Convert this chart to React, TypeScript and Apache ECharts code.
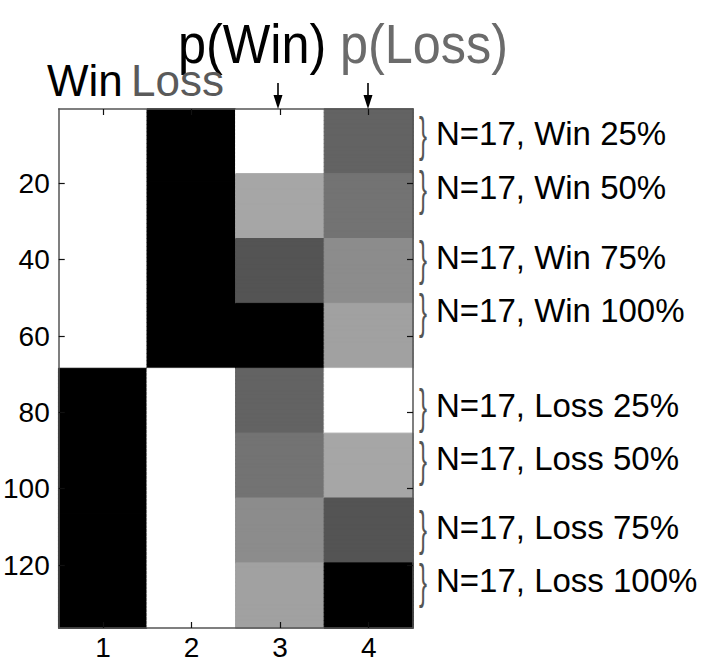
import React, { useEffect, useRef } from "react";
import * as echarts from "echarts";

const ROWS_PER_GROUP = 17;
const xCategories = ["1", "2", "3", "4"];
const yTickValues = [20, 40, 60, 80, 100, 120];
// Per-group values (8 groups of 17 rows), 0 = black, 1 = white
const winColumn = [1, 1, 1, 1, 0, 0, 0, 0];
const lossColumn = [0, 0, 0, 0, 1, 1, 1, 1];
const pWinColumn = [1.0, 0.65, 0.33, 0.0, 0.39, 0.45, 0.55, 0.63];
const pLossColumn = [0.39, 0.45, 0.55, 0.63, 1.0, 0.65, 0.33, 0.0];
const groupLabels = [
  "N=17, Win 25%",
  "N=17, Win 50%",
  "N=17, Win 75%",
  "N=17, Win 100%",
  "N=17, Loss 25%",
  "N=17, Loss 50%",
  "N=17, Loss 75%",
  "N=17, Loss 100%",
];
const columnHeaders = ["Win", "Loss"];
const probHeaders = ["p(Win)", "p(Loss)"];

const FONT = "Liberation Sans, Arial, Helvetica, sans-serif";

function gray(v: number) {
  const g = Math.round(v * 255);
  return `rgb(${g},${g},${g})`;
}

export default function App() {
  const ref = useRef<HTMLDivElement>(null);
  useEffect(() => {
    if (!ref.current) return;
    const chart = echarts.init(ref.current, undefined, { renderer: "svg" });
    const columns = [winColumn, lossColumn, pWinColumn, pLossColumn];
    const nRows = columns[0].length * ROWS_PER_GROUP;
    const yCategories = Array.from({ length: nRows }, (_, i) => String(i + 1));
    const data: any[] = [];
    columns.forEach((col, c) => {
      col.forEach((v, g) => {
        for (let r = 0; r < ROWS_PER_GROUP; r++) {
          const color = gray(v);
          data.push({
            value: [c, g * ROWS_PER_GROUP + r, v],
            itemStyle: { borderColor: color, borderWidth: 1 },
          });
        }
      });
    });
    const showY = (_i: number, v: string) => yTickValues.includes(Number(v));
    const lineStyle = { color: "#555", width: 1.5 };
    const tickStyle = { color: "#111", width: 1.2 };

    const labelYs = [133, 187, 257, 310, 405, 458, 527, 580];
    const graphic: any[] = [];
    groupLabels.forEach((t, i) => {
      graphic.push({
        type: "text",
        x: 419,
        y: labelYs[i] + 2,
        scaleX: 0.5,
        style: { text: "}", font: `48px ${FONT}`, fill: "#555", verticalAlign: "middle", align: "left" },
      });
      graphic.push({
        type: "text",
        x: 436,
        y: labelYs[i],
        style: { text: t, font: `33px ${FONT}`, fill: "#000", verticalAlign: "middle", align: "left" },
      });
    });
    graphic.push({
      type: "text",
      x: 178,
      y: 44,
      scaleX: 0.9,
      style: { text: probHeaders[0], font: `56px ${FONT}`, fill: "#000", verticalAlign: "middle" },
    });
    graphic.push({
      type: "text",
      x: 340,
      y: 44,
      scaleX: 0.9,
      style: { text: probHeaders[1], font: `56px ${FONT}`, fill: "#6b6b6b", verticalAlign: "middle" },
    });
    graphic.push({
      type: "text",
      x: 47,
      y: 80,
      style: { text: columnHeaders[0], font: `44px ${FONT}`, fill: "#000", verticalAlign: "middle" },
    });
    graphic.push({
      type: "text",
      x: 131,
      y: 80,
      style: { text: columnHeaders[1], font: `44px ${FONT}`, fill: "#5a5a5a", verticalAlign: "middle" },
    });
    [278, 368].forEach((x) => {
      graphic.push({
        type: "line",
        shape: { x1: x, y1: 83, x2: x, y2: 100 },
        style: { stroke: "#000", lineWidth: 1.6 },
        z: 100,
      });
      graphic.push({
        type: "polygon",
        shape: { points: [[x - 4.5, 95], [x + 4.5, 95], [x, 109]] },
        style: { fill: "#000" },
        z: 100,
      });
    });

    chart.setOption({
      animation: false,
      backgroundColor: "#fff",
      grid: { left: 53, right: 290, top: 109, bottom: 39, containLabel: false },
      xAxis: [
        {
          type: "category",
          data: xCategories,
          position: "bottom",
          z: 10,
          axisLine: { show: true, lineStyle },
          axisTick: { show: true, inside: true, alignWithLabel: true, length: 6, lineStyle: tickStyle },
          axisLabel: { color: "#000", fontSize: 28, fontFamily: FONT, margin: 5 },
          splitLine: { show: false },
          splitArea: { show: false },
        },
        {
          type: "category",
          data: xCategories,
          position: "top",
          z: 10,
          axisLine: { show: true, lineStyle },
          axisTick: { show: true, inside: true, alignWithLabel: true, length: 6, lineStyle: tickStyle },
          axisLabel: { show: false },
          splitLine: { show: false },
        },
      ],
      yAxis: [
        {
          type: "category",
          data: yCategories,
          inverse: true,
          position: "left",
          z: 10,
          axisLine: { show: true, lineStyle },
          axisTick: { show: true, inside: true, alignWithLabel: true, length: 6, interval: showY, lineStyle: tickStyle },
          axisLabel: { color: "#000", fontSize: 28, fontFamily: FONT, margin: 9, interval: showY },
          splitLine: { show: false },
        },
        {
          type: "category",
          data: yCategories,
          inverse: true,
          position: "right",
          z: 10,
          axisLine: { show: true, lineStyle },
          axisTick: { show: true, inside: true, alignWithLabel: true, length: 6, interval: showY, lineStyle: tickStyle },
          axisLabel: { show: false },
          splitLine: { show: false },
        },
      ],
      visualMap: {
        show: false,
        type: "continuous",
        min: 0,
        max: 1,
        dimension: 2,
        inRange: { color: ["#000000", "#ffffff"] },
      },
      series: [
        {
          type: "heatmap",
          xAxisIndex: 0,
          yAxisIndex: 0,
          data,
          emphasis: { disabled: true },
          progressive: 0,
        },
      ],
      graphic,
    });
    return () => chart.dispose();
  }, []);
  return (
    <div
      ref={ref}
      style={{ position: "fixed", left: 0, top: 0, width: 703, height: 667, background: "#fff" }}
    />
  );
}
